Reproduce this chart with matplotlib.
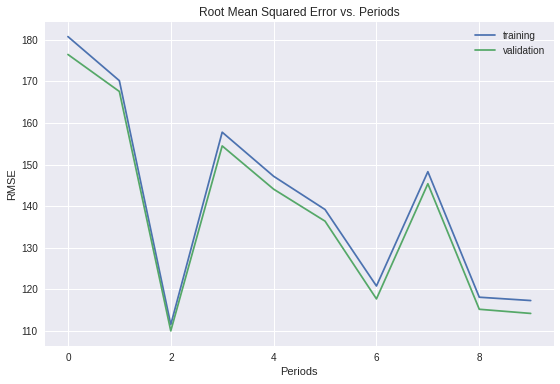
import matplotlib
matplotlib.use("Agg")
import matplotlib.pyplot as plt

# RMSE per training period
periods = list(range(10))
training_rmse = [180.8, 170.2, 111.5, 157.8, 147.2, 139.2, 120.8, 148.3, 118.1, 117.3]
validation_rmse = [176.5, 167.6, 110.0, 154.5, 144.1, 136.4, 117.7, 145.4, 115.2, 114.2]

plt.style.use("seaborn-v0_8")
plt.rcParams["font.family"] = ["Liberation Sans", "DejaVu Sans"]

fig = plt.figure(figsize=(560 / 72, 384 / 72), dpi=72)
ax = fig.add_axes([0.080, 0.100, 0.909, 0.843])

ax.plot(periods, training_rmse, label="training")
ax.plot(periods, validation_rmse, label="validation")
ax.set_title("Root Mean Squared Error vs. Periods")
ax.set_xlabel("Periods")
ax.set_ylabel("RMSE")
ax.legend()

fig.savefig("out.png", dpi=72)
